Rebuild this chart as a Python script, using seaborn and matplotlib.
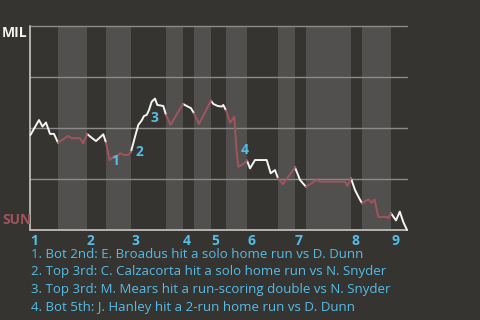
import matplotlib
matplotlib.use("Agg")
import matplotlib.pyplot as plt
import seaborn as sns
import pandas as pd
import numpy as np

# ---- data (game progress units, MIL win probability) ----
half_bounds = [0, 28, 57, 76, 101, 136, 153, 164, 181, 196, 217, 248, 265, 276, 321, 332, 361, 377]
inning_labels = ["1", "2", "3", "4", "5", "6", "7", "8", "9"]

progress = [0.5, 5, 9, 12.5, 16, 20, 24, 28,
            38.3, 41.7, 50, 53.3, 57,
            62, 66, 73.3, 76,
            79.5, 82, 84, 86, 90, 94, 98.3, 101,
            105, 108.3, 111.7, 114, 116.7, 119, 121.7, 125, 127.3, 133.3, 136,
            140.5, 153,
            156.7, 161, 164,
            169, 181,
            183.3, 187.7, 191.7, 193.3, 196,
            200, 204.3, 206.5, 208.3, 213.3, 217,
            220, 225, 236.7, 240.7, 245, 248,
            253, 265,
            270, 276,
            286.7, 290, 315, 317.3, 321,
            325, 329.3, 332,
            338.3, 341.7, 344.5, 348.3, 356.7, 358.3, 361,
            366, 369.8, 373.3, 377]
mil_wp = [0.466, 0.505, 0.539, 0.507, 0.527, 0.471, 0.471, 0.428,
          0.461, 0.450, 0.450, 0.425, 0.471,
          0.451, 0.436, 0.469, 0.428,
          0.343, 0.353, 0.363, 0.358, 0.376, 0.368, 0.368, 0.384,
          0.457, 0.515, 0.537, 0.559, 0.564, 0.588, 0.629, 0.644, 0.613, 0.608, 0.564,
          0.515, 0.618,
          0.608, 0.597, 0.572,
          0.520, 0.634,
          0.618, 0.608, 0.605, 0.613, 0.586,
          0.526, 0.555, 0.392, 0.310, 0.324, 0.340,
          0.302, 0.343, 0.343, 0.278, 0.294, 0.253,
          0.225, 0.307,
          0.245, 0.212,
          0.245, 0.237, 0.237, 0.216, 0.253,
          0.196, 0.155, 0.131,
          0.150, 0.134, 0.150, 0.064, 0.064, 0.057, 0.082,
          0.047, 0.090, 0.039, 0.0]

event_ids = ["1", "2", "3", "4"]
event_progress = [79.5, 101, 116.7, 206.5]
event_wp = [0.343, 0.384, 0.564, 0.392]
event_texts = [
    "1. Bot 2nd: E. Broadus hit a solo home run vs D. Dunn",
    "2. Top 3rd: C. Calzacorta hit a solo home run vs N. Snyder",
    "3. Top 3rd: M. Mears hit a run-scoring double vs N. Snyder",
    "4. Bot 5th: J. Hanley hit a 2-run home run vs D. Dunn",
]

# ---- styling ----
BG = "#363430"
BAND = "#51504e"
GRID = "#8c8b89"
WHITE = "#f4f4f4"
RED = "#a0555d"
CYAN = "#55bde8"

sns.set_style("dark")
plt.rcParams["font.family"] = ["Open Sans", "DejaVu Sans"]

fig = plt.figure(figsize=(4.8, 3.2), dpi=100, facecolor=BG)
ax = fig.add_axes([30 / 480, 1 - 230 / 320, 377 / 480, 204 / 320])
ax.set_facecolor(BG)

# build long table: one unit per half inning
rows = []
x_arr = np.array(progress)
y_arr = np.array(mil_wp)
for h in range(len(half_bounds) - 1):
    s, e = half_bounds[h], half_bounds[h + 1]
    m = (x_arr >= s) & (x_arr <= e)
    side = "top" if h % 2 == 0 else "bottom"
    for xv, yv in zip(x_arr[m], y_arr[m]):
        rows.append({"x": xv, "wp": yv, "half": h, "side": side})
df = pd.DataFrame(rows)

# shaded bottom halves
for h in range(1, len(half_bounds) - 1, 2):
    ax.axvspan(half_bounds[h], half_bounds[h + 1], color=BAND, lw=0, zorder=0)

for yv in [0.25, 0.5, 0.75, 1.0]:
    ax.axhline(yv, color=GRID, lw=1.0, zorder=1)
ax.axhline(0, color="#bdbcba", lw=1.3, zorder=1)
ax.axvline(0, color="#bdbcba", lw=1.3, zorder=1)

sns.lineplot(data=df, x="x", y="wp", hue="side", units="half", estimator=None,
             sort=False, palette={"top": WHITE, "bottom": RED}, lw=1.4,
             legend=False, ax=ax, zorder=3)
for ln in ax.get_lines():
    ln.set_clip_on(False)

ax.set_xlim(0, 377)
ax.set_ylim(0, 1)
ax.set_xticks([])
ax.set_yticks([])
ax.set_xlabel("")
ax.set_ylabel("")
for sp in ax.spines.values():
    sp.set_visible(False)

# event markers
offsets = [(1, -1), (3, 0), (3, -2), (3, 0)]
for lab, ex, ey, off in zip(event_ids, event_progress, event_wp, offsets):
    ax.annotate(lab, (ex, ey), xytext=off, textcoords="offset points",
                ha="left", va="center", color=CYAN, fontsize=10,
                fontweight="bold", zorder=5)

# inning labels
inning_starts = half_bounds[0:-1:2]
for lab, xs in zip(inning_labels, inning_starts):
    ax.annotate(lab, (xs, 0), xytext=(0, -8), textcoords="offset points",
                ha="left", va="center", color=CYAN, fontsize=10, fontweight="bold",
                annotation_clip=False)

fig.text(2 / 480, 1 - 33 / 320, "MIL", color=WHITE, fontsize=10,
         fontweight="bold", ha="left", va="center")
fig.text(2 / 480, 1 - 220 / 320, "SUN", color=RED, fontsize=10,
         fontweight="bold", ha="left", va="center")

for i, t in enumerate(event_texts):
    fig.text(31 / 480, 1 - (254 + 17.8 * i) / 320, t, color=CYAN,
             fontsize=9.5, ha="left", va="center")

fig.savefig("out.png", dpi=100, facecolor=BG)
